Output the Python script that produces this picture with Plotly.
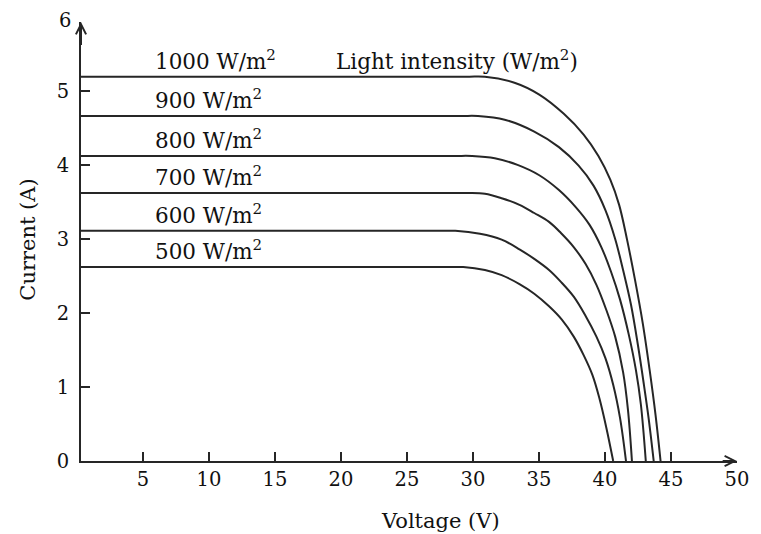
import plotly.graph_objects as go

# irradiance levels (W/m^2) and read-off I-V points
levels = [1000, 900, 800, 700, 600, 500]

v_1000 = [0, 29.4, 30.9, 33.14, 35.02, 36.88, 38.38, 39.5, 40.4, 41.07, 41.67, 42.27, 42.87, 43.38, 43.83, 44.21]
i_1000 = [5.19, 5.19, 5.19, 5.11, 4.95, 4.69, 4.41, 4.12, 3.80, 3.46, 2.99, 2.45, 1.85, 1.23, 0.62, 0]

v_900 = [0, 28.9, 30.38, 32.4, 34.64, 36.51, 38.0, 39.13, 40.03, 40.77, 41.37, 41.97, 42.49, 42.94, 43.31, 43.69]
i_900 = [4.66, 4.66, 4.66, 4.61, 4.45, 4.24, 3.99, 3.72, 3.39, 3.00, 2.58, 2.11, 1.57, 1.04, 0.57, 0]

v_800 = [0, 28.4, 29.93, 31.65, 33.37, 35.02, 36.51, 37.78, 38.83, 39.72, 40.47, 41.14, 41.81, 42.34, 42.72, 43.09]
i_800 = [4.12, 4.12, 4.12, 4.09, 4.00, 3.86, 3.66, 3.43, 3.19, 2.89, 2.55, 2.18, 1.70, 1.23, 0.76, 0]

v_700 = [0, 28.4, 29.63, 30.9, 32.17, 33.52, 34.64, 35.76, 36.66, 37.63, 38.53, 39.35, 40.1, 40.77, 41.37, 41.74, 42.04]
i_700 = [3.62, 3.62, 3.62, 3.61, 3.55, 3.46, 3.35, 3.23, 3.08, 2.89, 2.66, 2.38, 2.04, 1.68, 1.20, 0.69, 0]

v_600 = [0, 27.4, 28.66, 30.53, 32.17, 33.52, 34.64, 35.76, 36.66, 37.63, 38.53, 39.35, 40.03, 40.62, 41.14, 41.59]
i_600 = [3.11, 3.11, 3.11, 3.07, 2.99, 2.86, 2.73, 2.58, 2.42, 2.22, 1.96, 1.68, 1.39, 1.03, 0.58, 0]

v_500 = [0, 28.0, 29.26, 30.9, 32.17, 33.52, 34.64, 35.76, 36.73, 37.63, 38.38, 39.05, 39.57, 40.1, 40.62]
i_500 = [2.62, 2.62, 2.62, 2.58, 2.51, 2.39, 2.26, 2.09, 1.91, 1.68, 1.43, 1.16, 0.85, 0.45, 0]

x_ticks = [5, 10, 15, 20, 25, 30, 35, 40, 45, 50]
y_ticks = [0, 1, 2, 3, 4, 5]

FONT = "DejaVu Serif"
INK = "#262626"
TEXT = "#111111"

curves = [
    (v_1000, i_1000),
    (v_900, i_900),
    (v_800, i_800),
    (v_700, i_700),
    (v_600, i_600),
    (v_500, i_500),
]

fig = go.Figure()

for level, (v, i) in zip(levels, curves):
    fig.add_trace(
        go.Scatter(
            x=v,
            y=i,
            mode="lines",
            line=dict(color=INK, width=2, shape="spline", smoothing=1),
            name=f"{level} W/m2",
            showlegend=False,
        )
    )
    # label sitting just above the flat part of each curve
    fig.add_annotation(
        x=5.72,
        y=i[0],
        xref="x",
        yref="y",
        text=f"{level} W/m<sup>2</sup>",
        showarrow=False,
        xanchor="left",
        yanchor="bottom",
        yshift=1,
        font=dict(family=FONT, size=21.5, color=TEXT),
    )

fig.add_annotation(
    x=19.5,
    y=i_1000[0],
    xref="x",
    yref="y",
    text="Light intensity (W/m<sup>2</sup>)",
    showarrow=False,
    xanchor="left",
    yanchor="bottom",
    yshift=1,
    font=dict(family=FONT, size=21.5, color=TEXT),
)

# axis arrows
fig.add_annotation(
    x=50, y=0, ax=48.8, ay=0, xref="x", yref="y", axref="x", ayref="y",
    text="", showarrow=True, arrowhead=5, arrowsize=1.0, arrowwidth=2, arrowcolor=INK,
)
fig.add_annotation(
    x=0.3, y=5.93, ax=0.3, ay=5.6, xref="x", yref="y", axref="x", ayref="y",
    text="", showarrow=True, arrowhead=5, arrowsize=1.0, arrowwidth=2, arrowcolor=INK,
)
fig.add_annotation(
    x=0.3, y=5.93, xref="x", yref="y", text="6", showarrow=False,
    xanchor="right", yanchor="middle", xshift=-8, yshift=2,
    font=dict(family=FONT, size=19.5, color=TEXT),
)

# axis titles
fig.add_annotation(
    x=27.5, y=0, xref="x", yref="paper", text="Voltage (V)", showarrow=False,
    xanchor="center", yanchor="top", yshift=-46,
    font=dict(family=FONT, size=21, color=TEXT),
)
fig.add_annotation(
    x=0, y=2.99, xref="paper", yref="y", text="Current (A)", showarrow=False,
    textangle=-90, xanchor="center", yanchor="middle", xshift=-53,
    font=dict(family=FONT, size=21, color=TEXT),
)

fig.update_xaxes(
    range=[0.3, 50],
    tickvals=x_ticks,
    ticks="inside",
    ticklen=9,
    tickwidth=2,
    tickcolor=INK,
    showline=True,
    linecolor=INK,
    linewidth=2,
    showgrid=False,
    zeroline=False,
    ticklabelstandoff=0,
    tickfont=dict(family=FONT, size=19.5, color=TEXT),
)
fig.update_yaxes(
    range=[0, 5.93],
    tickvals=y_ticks,
    ticks="inside",
    ticklen=9,
    tickwidth=2,
    tickcolor=INK,
    showline=True,
    linecolor=INK,
    linewidth=2,
    showgrid=False,
    zeroline=False,
    ticklabelstandoff=6,
    tickfont=dict(family=FONT, size=19.5, color=TEXT),
)
# page body adds an 8px margin, so the figure is 8px smaller each way
fig.update_layout(
    width=753,
    height=526,
    margin=dict(l=73, r=15, t=14, b=73),
    plot_bgcolor="white",
    paper_bgcolor="white",
    font=dict(family=FONT, color=TEXT),
)

fig.write_html("out.html")
